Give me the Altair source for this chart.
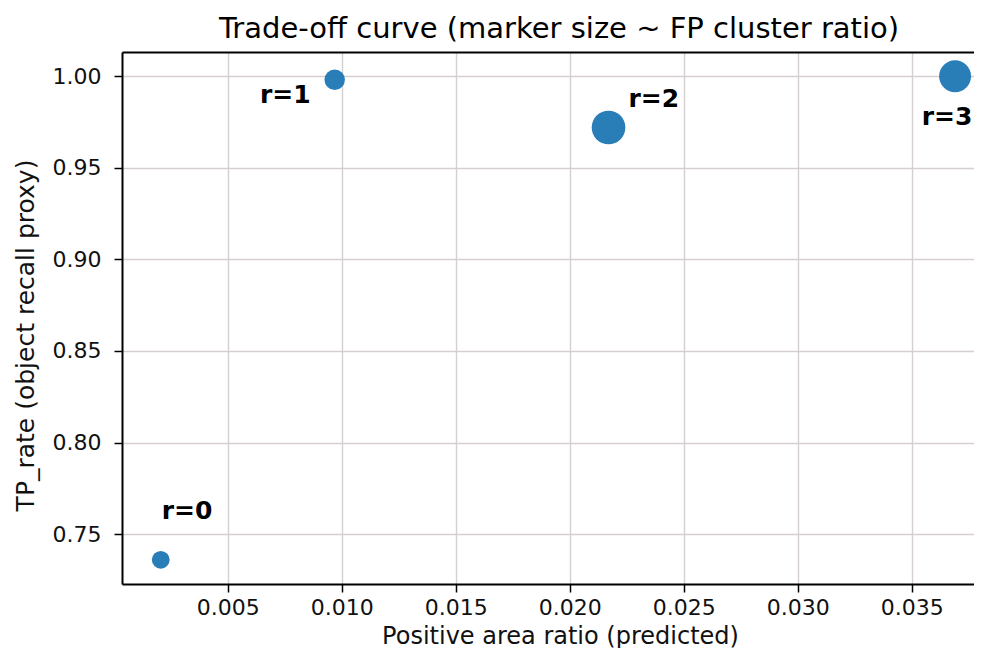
import altair as alt
import pandas as pd

# data
labels = ["r=0", "r=1", "r=2", "r=3"]
pos_area_ratio = [0.00206, 0.00969, 0.0217, 0.0369]
tp_rate = [0.736, 0.998, 0.972, 1.000]
fp_cluster_ratio = [0.28, 0.37, 1.00, 0.90]

x_ticks = [0.005, 0.010, 0.015, 0.020, 0.025, 0.030, 0.035]
y_ticks = [0.75, 0.80, 0.85, 0.90, 0.95, 1.00]

df = pd.DataFrame({
    "label": labels,
    "x": pos_area_ratio,
    "y": tp_rate,
    "fp": fp_cluster_ratio,
})

FONT = "DejaVu Sans"
W, H = 852, 532
x_scale = alt.Scale(domain=[0.00036, 0.03773], nice=False, zero=False)
y_scale = alt.Scale(domain=[0.7228, 1.0132], nice=False, zero=False)

base = alt.Chart(df)

points = base.mark_circle(color="#1f77b4", opacity=0.95).encode(
    x=alt.X("x:Q", scale=x_scale,
            axis=alt.Axis(values=x_ticks, format=".3f", grid=True,
                          title="Positive area ratio (predicted)",
                          titleX=438)),
    y=alt.Y("y:Q", scale=y_scale,
            axis=alt.Axis(values=y_ticks, format=".2f", grid=True,
                          title="TP_rate (object recall proxy)",
                          titleY=283)),
    size=alt.Size("fp:Q", scale=alt.Scale(domain=[0, 1], range=[0, 1134]), legend=None),
)

spine = base.mark_circle(opacity=0).encode(
    x=alt.X("x:Q", scale=x_scale,
            axis=alt.Axis(orient="top", labels=False, ticks=False, grid=False,
                          domain=True, title=None)),
    y=alt.Y("y:Q", scale=y_scale, axis=None),
)

label_styles = {
    "r=0": dict(align="left", dx=1, dy=-41),
    "r=1": dict(align="right", dx=-24, dy=23),
    "r=2": dict(align="left", dx=20, dy=-20),
    "r=3": dict(align="center", dx=-8, dy=49),
}

text_layers = []
for lab in labels:
    st = label_styles[lab]
    text_layers.append(
        base.transform_filter(alt.datum.label == lab).mark_text(
            font=FONT, fontSize=25, fontWeight="bold", color="black",
            baseline="alphabetic", **st
        ).encode(
            x=alt.X("x:Q", scale=x_scale, axis=None),
            y=alt.Y("y:Q", scale=y_scale, axis=None),
            text="label:N",
        )
    )

chart = alt.layer(points, spine, *text_layers).resolve_axis(
    x="independent", y="independent"
).properties(
    width=W, height=H,
    autosize=alt.AutoSizeParams(type="none"),
    padding={"left": 114, "top": 44, "right": 0, "bottom": 64},
    title=alt.TitleParams(
        "Trade-off curve (marker size ~ FP cluster ratio)",
        font=FONT, fontSize=29, fontWeight="normal", color="black",
        anchor="middle", dx=11, offset=8,
    ),
).configure_view(stroke=None).configure_axis(
    labelFont=FONT, labelFontSize=22, labelColor="#111",
    titleFont=FONT, titleFontWeight="normal", titleColor="#111",
    domainColor="black", domainWidth=2,
    tickColor="black", tickWidth=1.5, tickSize=8,
    gridColor="#d6cfcf", gridWidth=1.4,
    labelPadding=5,
).configure_axisX(
    titleFontSize=24, titlePadding=6,
).configure_axisY(
    titleFontSize=25, titlePadding=14, labelPadding=13,
)

chart.save("out.html", embed_options={"renderer": "svg", "actions": False})
